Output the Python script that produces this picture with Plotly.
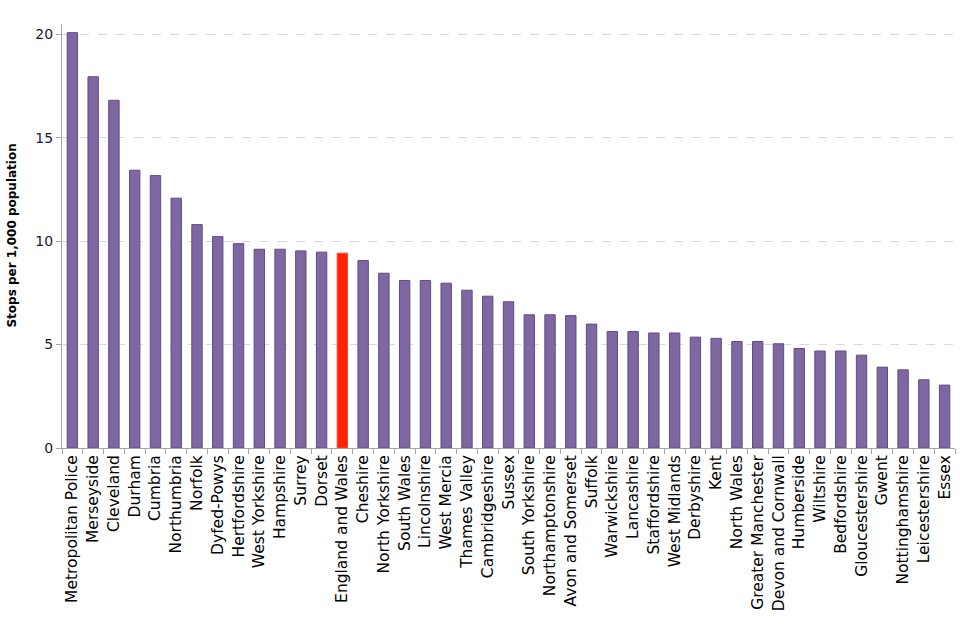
import plotly.graph_objects as go

forces = ["Metropolitan Police", "Merseyside", "Cleveland", "Durham", "Cumbria", "Northumbria",
          "Norfolk", "Dyfed-Powys", "Hertfordshire", "West Yorkshire", "Hampshire", "Surrey",
          "Dorset", "England and Wales", "Cheshire", "North Yorkshire", "South Wales",
          "Lincolnshire", "West Mercia", "Thames Valley", "Cambridgeshire", "Sussex",
          "South Yorkshire", "Northamptonshire", "Avon and Somerset", "Suffolk", "Warwickshire",
          "Lancashire", "Staffordshire", "West Midlands", "Derbyshire", "Kent", "North Wales",
          "Greater Manchester", "Devon and Cornwall", "Humberside", "Wiltshire", "Bedfordshire",
          "Gloucestershire", "Gwent", "Nottinghamshire", "Leicestershire", "Essex"]
stops_per_1000 = [20.08, 17.95, 16.81, 13.43, 13.17, 12.08,
                  10.8, 10.22, 9.88, 9.61, 9.61, 9.53,
                  9.47, 9.42, 9.06, 8.45, 8.10,
                  8.10, 7.97, 7.63, 7.34, 7.07,
                  6.44, 6.44, 6.40, 5.99, 5.63,
                  5.63, 5.56, 5.56, 5.36, 5.30, 5.15,
                  5.15, 5.04, 4.81, 4.69, 4.69,
                  4.49, 3.91, 3.78, 3.30, 3.04]
highlight = "England and Wales"
y_title = "Stops per 1,000 population"

colors = ["#ff2200" if f == highlight else "#7f68a1" for f in forces]
line_colors = ["#ff4a33" if f == highlight else "#5f4b86" for f in forces]

fig = go.Figure(go.Bar(
    x=forces, y=stops_per_1000,
    marker=dict(color=colors, line=dict(color=line_colors, width=1)),
    hoverinfo="x+y",
))

fig.update_layout(
    width=960, height=640,
    margin=dict(l=62, r=5, t=24, b=192, autoexpand=False),
    paper_bgcolor="white", plot_bgcolor="white",
    bargap=0.5,
    showlegend=False,
    font=dict(family="DejaVu Sans", color="#000000"),
    annotations=[dict(
        text="<b>" + y_title + "</b>", textangle=-90,
        xref="paper", yref="paper", x=-0.0565, y=0.5,
        xanchor="center", yanchor="middle", showarrow=False,
        font=dict(size=12, family="DejaVu Sans", color="#000000"),
    )],
)
fig.update_xaxes(
    type="category",
    range=[-0.5, len(forces) - 0.5],
    automargin=False,
    tickangle=-90,
    tickfont=dict(size=15.5, family="DejaVu Sans", color="#000000"),
    showline=True, linecolor="#a6a6a6", linewidth=1,
    ticks="outside", tickson="boundaries", ticklen=5, tickcolor="#a6a6a6",
    showgrid=False,
)
fig.update_yaxes(
    range=[0, 20.5],
    automargin=False,
    tickvals=[0, 5, 10, 15, 20],
    tickfont=dict(size=14, family="DejaVu Sans", color="#1a1a2e"),
    showline=True, linecolor="#a6a6a6", linewidth=1,
    ticks="outside", ticklen=5, tickcolor="#a6a6a6",
    showgrid=True, gridcolor="#d9d9d9", griddash="dash", gridwidth=1,
    zeroline=False,
)

fig.write_html("out.html", config={"displayModeBar": False},
               post_script="document.body.style.margin='0px';")
